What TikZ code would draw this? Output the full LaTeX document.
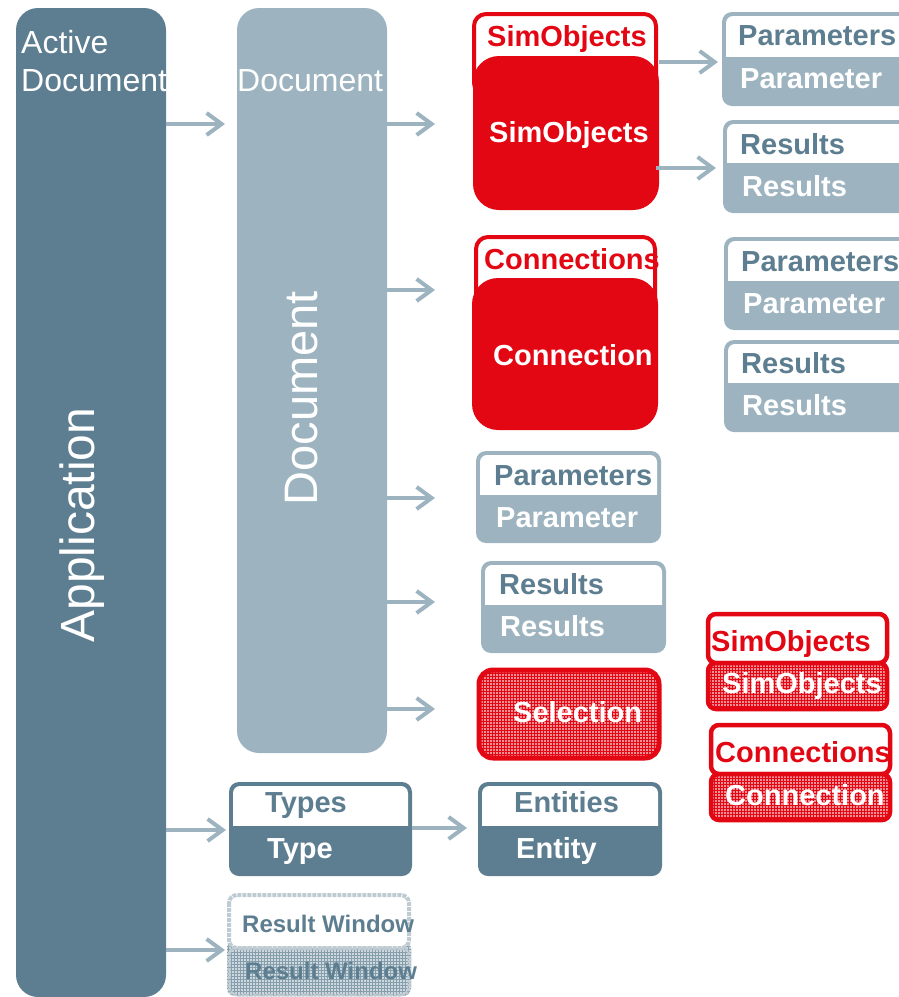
\documentclass[tikz,border=0pt]{standalone}
\usepackage{fontspec}
\setmainfont{Liberation Sans}
\usetikzlibrary{arrows.meta,patterns,fit}
\definecolor{slate}{HTML}{5D7E90}
\definecolor{mist}{HTML}{9DB4C0}
\definecolor{signal}{HTML}{E30613}
\tikzset{
  arr/.style={draw=mist, line width=4pt, -{Straight Barb[length=15pt,width=22pt]}},
  hd/.style={font=\fontsize{29}{34}\selectfont\bfseries, inner sep=0, anchor=base west},
  hdsmall/.style={font=\fontsize{24}{28}\selectfont\bfseries, inner sep=0, anchor=base west, text=slate},
  big/.style={font=\fontsize{32}{38}\selectfont, text=white, inner sep=0, anchor=base west},
  frame/.style={inner sep=0, outer sep=0},
  hatched/.style={fill=#1!45, postaction={pattern=grid, pattern color=#1}},
}
% two-part list box: name, x1, y1, x2, y2, split, colour
\newcommand\listbox[7]{%
  \node[frame, fit={(#2,#3) (#4,#5)}] (#1) {};
  \fill[#7, rounded corners=10pt] (#2,#3) rectangle (#4,#5);
  \fill[white, rounded corners=7pt] (#2+4,#3+4) rectangle (#4-4,#6+10);
  \fill[#7] (#2,#6) rectangle (#4,#6+12);
}
% red outlined header over a hatched body: name, x1, y1, x2, split, y2
\newcommand\redpair[6]{%
  \node[frame, fit={(#2,#3) (#4,#6)}] (#1) {};
  \draw[signal, line width=4.5pt, fill=white, rounded corners=8pt] (#2,#3) rectangle (#4,#5);
  \draw[signal, line width=4.5pt, hatched=signal, rounded corners=8pt] (#2,#5) rectangle (#4,#6);
}
\begin{document}
\begin{tikzpicture}[x=1pt, y=-1pt]
\useasboundingbox (0,0) rectangle (899,997);

% application and document columns
\node[frame, fit={(16,8) (166,997)}] (app) {};
\fill[slate, rounded corners=22pt] (16,8) rectangle (166,997);
\node[frame, fit={(237,8) (387,753)}] (doc) {};
\fill[mist, rounded corners=22pt] (237,8) rectangle (387,753);

\node[big] (app-title1) at (21,53.5) {Active};
\node[big] (app-title2) at (21,91) {Document};
\node[font=\fontsize{48}{56}\selectfont, text=white, rotate=90, inner sep=0] (app-label) at (82,525) {Application};
\node[big] (doc-title) at (237,91) {Document};
\node[font=\fontsize{47}{56}\selectfont, text=white, rotate=90, inner sep=0] (doc-label) at (302,398) {Document};

% simulation objects
\node[frame, fit={(473,12) (659,210)}] (simobj) {};
\draw[signal, line width=4pt, fill=white, rounded corners=12pt] (474,14) rectangle (656,95);
\fill[signal, rounded corners=26pt] (473,56) rectangle (659,210);
\node[hd, text=signal] (simobj-head) at (487,46) {SimObjects};
\node[hd, text=white] (simobj-body) at (489,142) {SimObjects};

\node[frame, fit={(472,235) (658,430)}] (conn) {};
\draw[signal, line width=4pt, fill=white, rounded corners=12pt] (476,237) rectangle (655,320);
\fill[signal, rounded corners=26pt] (472,278) rectangle (658,430);
\node[hd, text=signal] (conn-head) at (484,269) {Connections};
\node[hd, text=white] (conn-body) at (493,365) {Connection};

% parameter and result lists
\listbox{paramsA}{722}{12}{915}{106}{57}{mist}
\node[hd, text=slate] (paramsA-head) at (738,45) {Parameters};
\node[hd, text=white] (paramsA-body) at (740,88) {Parameter};
\listbox{resultsA}{723}{120}{915}{213}{163}{mist}
\node[hd, text=slate] (resultsA-head) at (740,154) {Results};
\node[hd, text=white] (resultsA-body) at (742,196) {Results};

\listbox{paramsB}{724}{237}{915}{330}{281}{mist}
\node[hd, text=slate] (paramsB-head) at (741,271) {Parameters};
\node[hd, text=white] (paramsB-body) at (743,313) {Parameter};
\listbox{resultsB}{724}{340}{915}{432}{383}{mist}
\node[hd, text=slate] (resultsB-head) at (741,373) {Results};
\node[hd, text=white] (resultsB-body) at (742,415) {Results};

\listbox{paramsC}{476}{451}{661}{543}{495}{mist}
\node[hd, text=slate] (paramsC-head) at (494,485) {Parameters};
\node[hd, text=white] (paramsC-body) at (496,527) {Parameter};
\listbox{resultsC}{481}{561}{666}{653}{605}{mist}
\node[hd, text=slate] (resultsC-head) at (499,594) {Results};
\node[hd, text=white] (resultsC-body) at (500,636) {Results};

% selection
\node[frame, fit={(477,668) (661,760)}] (sel) {};
\draw[signal, line width=5pt, hatched=signal, rounded corners=14pt] (479,670) rectangle (659,758);
\node[hd, text=white] (sel-label) at (513,722) {Selection};

\redpair{selobj}{708}{614}{887}{663}{709}
\node[hd, text=signal] (selobj-head) at (711,651) {SimObjects};
\node[hd, text=white] (selobj-body) at (722,693) {SimObjects};
\redpair{selconn}{711}{725}{890}{774}{820}
\node[hd, text=signal] (selconn-head) at (715,762) {Connections};
\node[hd, text=white] (selconn-body) at (725,805) {Connection};

% types and entities
\listbox{types}{229}{782}{412}{876}{826}{slate}
\node[hd, text=slate] (types-head) at (265,812) {Types};
\node[hd, text=white] (types-body) at (267,858) {Type};
\listbox{entities}{478}{782}{662}{876}{826}{slate}
\node[hd, text=slate] (entities-head) at (514,812) {Entities};
\node[hd, text=white] (entities-body) at (516,858) {Entity};

% result window
\node[frame, fit={(227,893) (411,996)}] (resw) {};
\fill[slate!30, rounded corners=8pt, postaction={pattern=grid, pattern color=slate!75}] (227,940) rectangle (411,996);
\draw[slate!40, line width=4pt, densely dotted, fill=white, rounded corners=8pt] (229,895) rectangle (409,948);
\draw[slate!40, line width=3pt, densely dotted, rounded corners=8pt] (229,948) rectangle (409,995);
\node[hdsmall] (resw-head) at (242,932.5) {Result Window};
\node[hdsmall] (resw-body) at (245,979.5) {Result Window};

% connectors
\draw[arr, shorten >=12pt] (app.east |- 0,124) -- (doc.west |- 0,124);
\draw[arr, shorten >=38pt] (doc.east |- 0,124) -- (simobj.west |- 0,124);
\draw[arr, shorten >=37pt] (doc.east |- 0,290) -- (conn.west |- 0,290);
\draw[arr, shorten >=41pt] (doc.east |- 0,498) -- (paramsC.west |- 0,498);
\draw[arr, shorten >=46pt] (doc.east |- 0,602) -- (resultsC.west |- 0,602);
\draw[arr, shorten >=42pt] (doc.east |- 0,709) -- (sel.west |- 0,709);
\draw[arr, shorten >=4pt] (simobj.east |- 0,62) -- (paramsA.west |- 0,62);
\draw[arr, shorten >=7pt] ([xshift=-3pt]simobj.east |- 0,168) -- (resultsA.west |- 0,168);
\draw[arr, shorten >=3pt] (app.east |- 0,830) -- (types.west |- 0,830);
\draw[arr, shorten >=11pt] (types.east |- 0,828) -- (entities.west |- 0,828);
\draw[arr, shorten >=2pt] (app.east |- 0,950) -- (resw.west |- 0,950);
\end{tikzpicture}
\end{document}
